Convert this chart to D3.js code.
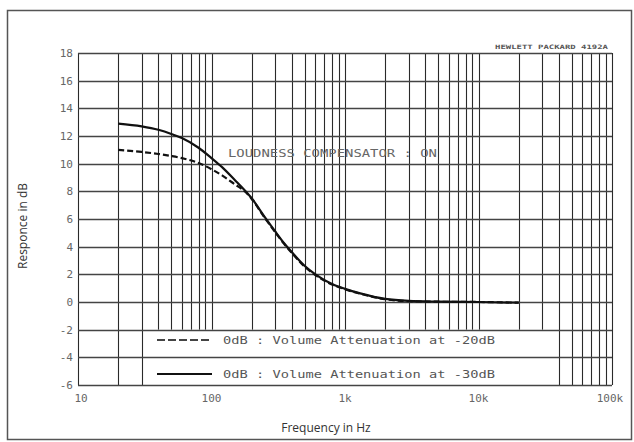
<!DOCTYPE html>
<html><head><meta charset="utf-8">
<script src="https://cdn.jsdelivr.net/npm/d3@7"></script>
<style>body{margin:0;background:#fff}svg{display:block}</style>
</head><body>
<svg id="c" width="634" height="442"></svg>
<script>
const freqSolid = [20,30,40,50,60,80,100,120,150,180,200,250,300,350,400,500,600,800,1000,1300,2000,3000,5000,10000,20000];
const dbSolid   = [12.9,12.7,12.45,12.15,11.85,11.15,10.4,9.75,8.8,8.0,7.5,6.15,5.1,4.25,3.6,2.6,2.0,1.3,0.95,0.62,0.22,0.08,0.03,0.0,-0.05];
const freqDashed = [20,30,40,50,60,80,100,120,150,180,200,250,300,350,400,500,600,800,1000,1300,2000,3000,5000,10000,20000];
const dbDashed   = [11.0,10.85,10.7,10.55,10.4,10.05,9.6,9.15,8.5,7.95,7.45,6.1,5.05,4.2,3.55,2.55,1.95,1.27,0.92,0.6,0.2,0.06,0.02,0.0,-0.05];
const yTicks = [18,16,14,12,10,8,6,4,2,0,-2,-4,-6];
const xTicks = [10,100,1000,10000,100000];
const xTickLabels = ["10","100","1k","10k","100k"];
const legendLabels = ["0dB : Volume Attenuation at -20dB","0dB : Volume Attenuation at -30dB"];
const title = "LOUDNESS COMPENSATOR : ON";
const maker = "HEWLETT PACKARD 4192A";

const svg = d3.select("#c");
const L=78,R=612,T=53,B=385;
const x = d3.scaleLog().domain([10,100000]).range([L,R]);
const y = d3.scaleLinear().domain([-6,18]).range([B,T]);

svg.append("rect").attr("x",7.5).attr("y",10.5).attr("width",624).attr("height",429)
  .attr("fill","none").attr("stroke","#555").attr("stroke-width",1.5);

const grid = svg.append("g").attr("stroke","#2a2a2a").attr("stroke-width",1.1);
const vlines = [];
for (let d=10; d<100000; d*=10) for (let m=1;m<10;m++) vlines.push(d*m);
vlines.push(100000);
grid.selectAll("line.v").data(vlines).join("line").attr("class","v")
  .attr("x1",d=>Math.round(x(d))+0.5).attr("x2",d=>Math.round(x(d))+0.5)
  .attr("y1",T).attr("y2",B);
const lgX0=144, lgX1=550;
svg.append("rect").attr("x",lgX0).attr("y",y(-2)).attr("width",lgX1-lgX0).attr("height",B-y(-2)).attr("fill","#fff");
svg.append("g").attr("stroke","#444").attr("stroke-width",1.4)
  .selectAll("line").data(yTicks).join("line")
  .attr("x1",L).attr("x2",R).attr("y1",d=>Math.round(y(d))+0.5).attr("y2",d=>Math.round(y(d))+0.5);

const tickFont = "'DejaVu Sans Mono', monospace";
svg.append("g").selectAll("text").data(yTicks).join("text")
  .attr("x",73).attr("y",d=>y(d)+4).attr("text-anchor","end")
  .attr("font-family",tickFont).attr("font-size",11).attr("fill","#666")
  .text(d=>String(d));
svg.append("g").selectAll("text").data(xTicks).join("text")
  .attr("x",(d,i)=>x(d)+(i===0?3:(i===4?-2:0))).attr("y",402).attr("text-anchor","middle")
  .attr("font-family",tickFont).attr("font-size",11).attr("fill","#666")
  .text((d,i)=>xTickLabels[i]);

const line = d3.line().x(d=>x(d[0])).y(d=>y(d[1])).curve(d3.curveMonotoneX);
svg.append("path").datum(freqDashed.map((f,i)=>[f,dbDashed[i]]))
  .attr("d",line).attr("fill","none").attr("stroke","#111").attr("stroke-width",2.2)
  .attr("stroke-dasharray","6,3");
svg.append("path").datum(freqSolid.map((f,i)=>[f,dbSolid[i]]))
  .attr("d",line).attr("fill","none").attr("stroke","#111").attr("stroke-width",2.2);

svg.append("text").attr("x",228).attr("y",157).attr("font-family",tickFont).attr("font-size",11)
  .attr("fill","#666").attr("textLength",209).attr("lengthAdjust","spacingAndGlyphs").text(title);
svg.append("text").attr("x",495).attr("y",49).attr("font-family",tickFont).attr("font-size",6)
  .attr("font-weight","bold").attr("fill","#555").attr("textLength",113).attr("lengthAdjust","spacingAndGlyphs").text(maker);

const lg = svg.append("g");
const rows=[340,374];
lg.append("line").attr("x1",157).attr("x2",212).attr("y1",rows[0]).attr("y2",rows[0])
  .attr("stroke","#444").attr("stroke-width",2.2).attr("stroke-dasharray","8,3");
lg.append("line").attr("x1",157).attr("x2",212).attr("y1",rows[1]).attr("y2",rows[1])
  .attr("stroke","#111").attr("stroke-width",2.2);
lg.selectAll("text").data(legendLabels).join("text")
  .attr("x",223).attr("y",(d,i)=>rows[i]+4).attr("font-family",tickFont).attr("font-size",11)
  .attr("fill","#555").attr("textLength",272).attr("lengthAdjust","spacingAndGlyphs").text(d=>d);

svg.append("text").attr("x",326).attr("y",432).attr("text-anchor","middle")
  .attr("font-family","'Open Sans', sans-serif").attr("font-size",12).attr("fill","#333").text("Frequency in Hz");
svg.append("text").attr("transform","translate(27,226) rotate(-90)").attr("text-anchor","middle")
  .attr("font-family","'Open Sans', sans-serif").attr("font-size",12).attr("fill","#333").text("Responce in dB");
</script>
</body></html>
